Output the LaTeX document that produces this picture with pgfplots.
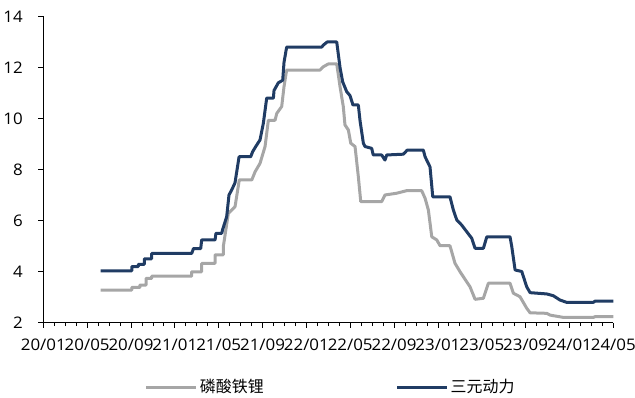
\documentclass[border=0pt]{standalone}
\usepackage{fontspec}
\setmainfont{Open Sans}
\newfontfamily\tickfont[FakeStretch=1.06]{Open Sans}
\newfontfamily\cjk{Noto Sans CJK SC}
\usepackage{pgfplots}
\pgfplotsset{compat=1.18}

\definecolor{lfpgray}{RGB}{166,166,166}
\definecolor{ncmblue}{RGB}{32,60,100}

% monthly prices, x = months since 2020/01
\pgfplotstableread{
x y
5.24 3.27
8.07 3.27
8.07 3.38
8.82 3.38
8.82 3.47
9.37 3.47
9.37 3.73
9.89 3.73
9.89 3.82
13.54 3.82
13.54 3.99
14.45 3.99
14.45 4.32
15.67 4.32
15.67 4.65
16.42 4.65
16.42 4.97
16.88 6.28
17.19 6.41
17.49 6.54
17.88 7.59
19.02 7.59
19.32 7.91
19.77 8.24
20.23 8.90
20.53 9.93
21.14 9.93
21.30 10.20
21.75 10.47
21.96 11.25
22.20 11.90
25.25 11.90
25.55 12.03
26.00 12.14
26.77 12.14
27.07 11.25
27.37 10.46
27.52 9.75
27.83 9.55
28.05 9.03
28.44 8.90
28.74 7.72
28.96 6.74
30.87 6.74
31.17 7.00
32.24 7.07
33.15 7.17
34.52 7.17
34.83 6.87
35.13 6.41
35.44 5.36
35.89 5.24
36.20 5.01
37.10 5.01
37.56 4.32
38.02 3.99
38.93 3.40
39.39 2.91
40.15 2.95
40.60 3.54
42.58 3.54
42.88 3.15
43.49 3.01
44.10 2.56
44.41 2.38
45.93 2.36
46.23 2.29
47.45 2.20
50.18 2.20
50.34 2.23
52.00 2.23
}\lfp

\pgfplotstableread{
x y
5.24 4.02
8.07 4.02
8.07 4.19
8.67 4.19
8.67 4.28
9.22 4.28
9.22 4.50
9.89 4.50
9.89 4.71
13.54 4.71
13.70 4.90
14.36 4.90
14.45 5.24
15.67 5.24
15.75 5.50
16.28 5.50
16.35 5.63
16.73 6.15
16.94 7.00
17.19 7.20
17.49 7.48
17.86 8.50
18.92 8.50
19.10 8.70
19.38 8.90
19.77 9.16
20.07 9.80
20.38 10.80
20.99 10.80
21.05 11.10
21.44 11.40
21.84 11.50
21.96 12.20
22.20 12.80
25.40 12.80
25.55 12.88
25.90 13.00
26.77 13.00
27.07 12.00
27.31 11.44
27.68 11.05
27.98 10.90
28.25 10.53
28.74 10.53
28.90 9.90
29.20 9.03
29.35 8.90
29.96 8.83
30.10 8.57
30.87 8.57
31.17 8.37
31.33 8.57
32.84 8.60
33.20 8.76
34.67 8.76
34.83 8.50
35.28 8.10
35.53 6.93
37.10 6.93
37.41 6.41
37.72 6.02
38.17 5.82
38.63 5.56
39.09 5.30
39.39 4.91
40.15 4.91
40.46 5.36
42.58 5.36
42.74 4.97
43.04 4.06
43.65 4.00
44.10 3.40
44.41 3.17
45.93 3.12
46.53 3.05
47.14 2.88
47.75 2.79
50.18 2.79
50.34 2.84
52.00 2.84
}\ncm

\begin{document}
\begin{tikzpicture}
\path[use as bounding box] (-43.3bp,-75.5bp) rectangle (591.7bp,322.5bp);
\begin{axis}[
  at={(0,0)}, anchor=origin,
  scale only axis, width=570bp, height=306bp,
  xmin=0, xmax=52, ymin=2, ymax=14,
  axis lines*=left,
  axis line style={line width=0.8bp, black},
  xtick={0,4,...,52},
  xticklabels={20/01,20/05,20/09,21/01,21/05,21/09,22/01,22/05,22/09,23/01,23/05,23/09,24/01,24/05},
  minor xtick={0,1,...,52},
  ytick={2,4,...,14},
  tick align=outside,
  major tick length=5bp, minor tick length=3.5bp,
  tick style={line width=0.8bp, black},
  /pgf/number format/assume math mode=true,
  ticklabel style={font=\tickfont\fontsize{16}{18}\selectfont, text=black},
  xticklabel style={yshift=-8bp},
  yticklabel style={xshift=-12bp},
  legend columns=2,
  legend cell align=left,
  legend style={draw=none, fill=none, inner sep=0pt, outer sep=0pt,
    at={(axis description cs:0.1784,-0.2108)}, anchor=west,
    font=\cjk\fontsize{16}{18}\selectfont,
    /tikz/every even column/.append style={column sep=130bp}},
  legend image code/.code={\draw[#1, line width=3bp] (0bp,0bp) -- (50bp,0bp);},
]
\addplot[lfpgray, line width=3bp, line join=round] table {\lfp};
\addlegendentry{磷酸铁锂}
\addplot[ncmblue, line width=3bp, line join=round] table {\ncm};
\addlegendentry{三元动力}
\end{axis}
\end{tikzpicture}
\end{document}
